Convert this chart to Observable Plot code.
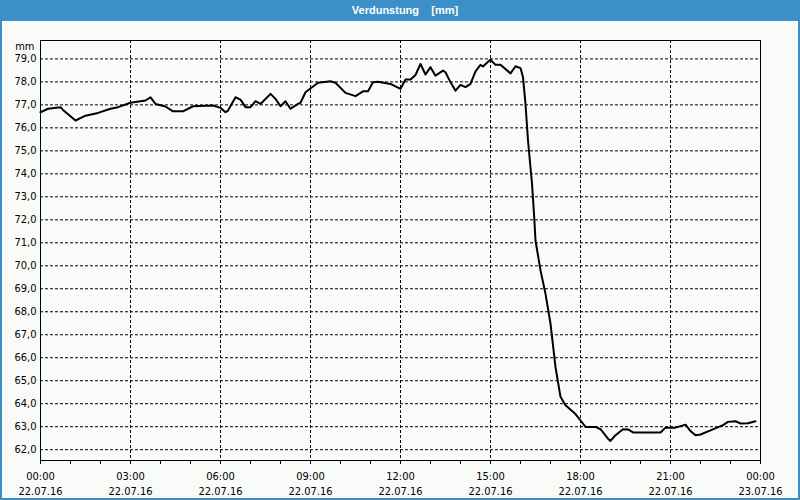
<!DOCTYPE html>
<html>
<head>
<meta charset="utf-8">
<script src="https://cdn.jsdelivr.net/npm/d3@7"></script>
<script src="https://cdn.jsdelivr.net/npm/@observablehq/plot@0.6"></script>
<style>
  html, body { margin: 0; padding: 0; background: #ffffff; }
  #wrap {
    position: relative; width: 800px; height: 500px; overflow: hidden;
    background: #f9fbf9; box-sizing: border-box;
    box-shadow: inset 0 0 0 2px #3c8fc7;
  }
  #title {
    position: absolute; left: 0; top: 0; width: 800px; height: 21px;
    background: #3c8fc7; color: #ffffff;
    font-family: "Liberation Sans", Arial, sans-serif; font-weight: bold; font-size: 11px;
    line-height: 21px; text-align: center; white-space: pre; padding-left: 10px; box-sizing: border-box;
  }
  #chart { position: absolute; left: 0; top: 21px; }
</style>
</head>
<body>
<div id="wrap">
  <div id="title">Verdunstung    [mm]</div>
  <div id="chart"></div>
</div>
<script>
// Minutes after 22.07.16 00:00
const minutes = [0, 15, 40, 45, 70, 90, 115, 140, 155, 180, 210, 220, 230, 250, 265, 285, 305, 345, 360, 370, 375,
  390, 400, 410, 420, 430, 440, 460, 470, 480, 490, 500, 515, 520, 530, 555, 580, 590, 610, 630, 645, 655, 665, 675,
  700, 720, 730, 740, 750, 760, 770, 780, 790, 805, 810, 820, 830, 840, 850, 860, 870, 880, 885, 900, 910, 920,
  940, 950, 960, 965, 970, 975, 983, 987, 990, 1000, 1010, 1020, 1030, 1040, 1050, 1070, 1080, 1090, 1110, 1120,
  1135, 1140, 1150, 1165, 1175, 1185, 1240, 1250, 1270, 1290, 1300, 1310, 1320, 1340, 1365, 1375, 1390, 1400, 1415, 1430];
// Verdunstung [mm]
const values = [76.68, 76.83, 76.90, 76.78, 76.32, 76.53, 76.65, 76.83, 76.90, 77.09, 77.19, 77.33, 77.04, 76.93, 76.72, 76.72, 76.94, 76.97, 76.87, 76.68, 76.75,
  77.33, 77.23, 76.90, 76.90, 77.16, 77.04, 77.48, 77.26, 76.94, 77.16, 76.83, 77.04, 77.09, 77.55, 77.96, 78.03, 77.96, 77.52, 77.38, 77.59, 77.59, 77.98, 78.01,
  77.91, 77.70, 78.10, 78.10, 78.30, 78.78, 78.32, 78.64, 78.27, 78.49, 78.42, 77.98, 77.62, 77.87, 77.77, 77.91, 78.46, 78.74, 78.67, 78.97, 78.74, 78.75,
  78.37, 78.68, 78.60, 78.20, 77.04, 75.45, 73.57, 72.26, 71.10, 69.80, 68.78, 67.48, 65.59, 64.30, 63.93, 63.55, 63.27, 62.99, 62.99, 62.89,
  62.48, 62.38, 62.63, 62.89, 62.88, 62.75, 62.75, 62.96, 62.96, 63.09, 62.81, 62.63, 62.66, 62.84, 63.07, 63.21, 63.24, 63.14, 63.15, 63.24];

const yTicks = [62, 63, 64, 65, 66, 67, 68, 69, 70, 71, 72, 73, 74, 75, 76, 77, 78, 79];
const xMajorHours = [0, 3, 6, 9, 12, 15, 18, 21, 24];
const xMinorHours = d3.range(0, 25);
const yDomain = [61.53, 79.8];
const unitLabel = ["mm"];

const toDate = (m) => new Date(Date.UTC(2016, 6, 22, 0, m));
const data = minutes.map((m, i) => ({t: toDate(m), v: values[i]}));
const xMajor = xMajorHours.map(h => toDate(h * 60));
const xMinor = xMinorHours.map(h => toDate(h * 60));
const fmtX = d3.utcFormat("%H:%M\n%d.%m.%y");
const fmtY = d => d.toFixed(1).replace(".", ",");

const chart = Plot.plot({
  width: 800,
  height: 479,
  marginTop: 19,
  marginBottom: 40,
  marginLeft: 40,
  marginRight: 40,
  style: {background: "transparent", fontFamily: "'DejaVu Sans Condensed', 'Liberation Sans', sans-serif", fontSize: "11px", color: "black"},
  x: {type: "utc", domain: [xMajor[0], xMajor[xMajor.length - 1]]},
  y: {domain: yDomain},
  marks: [
    Plot.gridY({ticks: yTicks, stroke: "black", strokeOpacity: 1, strokeDasharray: "3,2"}),
    Plot.gridX({ticks: xMajor, stroke: "black", strokeOpacity: 1, strokeDasharray: "3,2"}),
    Plot.axisY({ticks: yTicks, tickSize: 0, tickPadding: 4, tickFormat: fmtY, label: null, fill: "black"}),
    Plot.axisX({ticks: xMinor, tickSize: 4, tickFormat: () => "", label: null, stroke: "black"}),
    Plot.axisX({ticks: xMajor, tickSize: 4, tickPadding: 4, tickFormat: fmtX, label: null, lineHeight: 1.42, fill: "black", stroke: "black"}),
    Plot.frame({stroke: "black"}),
    Plot.line(data, {x: "t", y: "v", stroke: "black", strokeWidth: 2}),
    Plot.text(unitLabel, {frameAnchor: "top-left", dx: -6, dy: 6, lineAnchor: "middle", textAnchor: "end", fill: "black"})
  ]
});
document.getElementById("chart").appendChild(chart);
</script>
</body>
</html>
